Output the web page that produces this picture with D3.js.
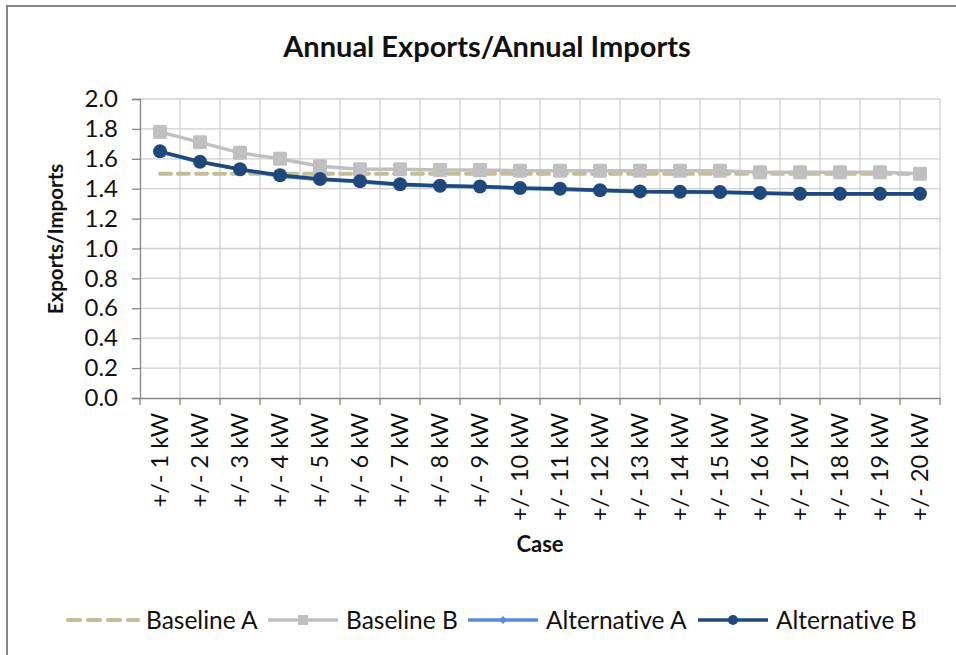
<!DOCTYPE html>
<html>
<head>
<meta charset="utf-8">
<script src="https://cdn.jsdelivr.net/npm/d3@7/dist/d3.min.js"></script>
<style>
  html, body { margin: 0; padding: 0; background: #fff; }
  svg { display: block; font-family: Lato, "Open Sans", sans-serif; font-variant-ligatures: none; font-feature-settings: "liga" 0; }
</style>
</head>
<body>
<svg id="chart" width="956" height="655"></svg>
<script>
// Cases and export/import ratios
const categories = ["+/- 1 kW","+/- 2 kW","+/- 3 kW","+/- 4 kW","+/- 5 kW","+/- 6 kW","+/- 7 kW","+/- 8 kW","+/- 9 kW","+/- 10 kW",
  "+/- 11 kW","+/- 12 kW","+/- 13 kW","+/- 14 kW","+/- 15 kW","+/- 16 kW","+/- 17 kW","+/- 18 kW","+/- 19 kW","+/- 20 kW"];
const baselineA = [1.50,1.50,1.50,1.50,1.50,1.50,1.50,1.50,1.50,1.50,1.50,1.50,1.50,1.50,1.50,1.50,1.50,1.50,1.50,1.50];
const baselineB = [1.78,1.71,1.64,1.60,1.55,1.53,1.53,1.525,1.525,1.52,1.52,1.52,1.52,1.52,1.52,1.51,1.51,1.51,1.51,1.50];
const alternativeA = [1.645,1.578,1.528,1.484,1.462,1.446,1.425,1.418,1.412,1.402,1.395,1.388,1.379,1.377,1.375,1.368,1.363,1.363,1.363,1.363];
const alternativeB = [1.65,1.58,1.53,1.49,1.465,1.45,1.43,1.42,1.415,1.405,1.40,1.39,1.382,1.38,1.378,1.372,1.366,1.366,1.366,1.366];
const yTicks = [0,0.2,0.4,0.6,0.8,1.0,1.2,1.4,1.6,1.8,2.0];

const series = [
  { name: "Baseline A", values: baselineA, color: "#C4BD97", dash: "11,7", width: 4, marker: null },
  { name: "Baseline B", values: baselineB, color: "#C0C0C0", dash: null, width: 3.5, marker: "square" },
  { name: "Alternative A", values: alternativeA, color: "#558ED5", dash: null, width: 3.5, marker: "diamond" },
  { name: "Alternative B", values: alternativeB, color: "#1F497D", dash: null, width: 3.5, marker: "circle" }
];

const svg = d3.select("#chart");
const plot = { left: 140, right: 940, top: 99, bottom: 398 };
const textColor = "#111";

// outer chart frame
svg.append("rect").attr("x", 7).attr("y", 6).attr("width", 1000).attr("height", 700)
  .attr("fill", "#fff").attr("stroke", "#868686").attr("stroke-width", 2);

const x = d3.scaleBand().domain(categories).range([plot.left, plot.right]).padding(0);
const y = d3.scaleLinear().domain([0, 2]).range([plot.bottom, plot.top]);
const cx = c => x(c) + x.bandwidth() / 2;

// horizontal grid
svg.append("g").selectAll("line").data(yTicks.slice(1)).join("line")
  .attr("x1", plot.left).attr("x2", plot.right)
  .attr("y1", d => y(d)).attr("y2", d => y(d))
  .attr("stroke", "#D0D0D0").attr("stroke-width", 1.3);
// vertical grid at category boundaries
const bounds = categories.map(c => x(c)).slice(1).concat([plot.right]);
svg.append("g").selectAll("line").data(bounds).join("line")
  .attr("x1", d => d).attr("x2", d => d)
  .attr("y1", plot.top).attr("y2", plot.bottom)
  .attr("stroke", "#D0D0D0").attr("stroke-width", 1.3);

// y axis
const yAxis = svg.append("g").attr("transform", `translate(${plot.left},0)`)
  .call(d3.axisLeft(y).tickValues(yTicks).tickFormat(d3.format(".1f")).tickSize(8).tickPadding(14));
yAxis.select(".domain").attr("stroke", "#868686").attr("stroke-width", 1.3);
yAxis.selectAll(".tick line").attr("stroke", "#868686").attr("stroke-width", 1.3);
yAxis.selectAll(".tick text").attr("font-size", 24).attr("fill", textColor).attr("font-family", "Lato, sans-serif");

// x axis with ticks on band edges
const xAxis = svg.append("g").attr("transform", `translate(0,${plot.bottom})`)
  .call(d3.axisBottom(x).tickSize(0).tickPadding(0));
xAxis.select(".domain").attr("stroke", "#868686").attr("stroke-width", 1.3);
xAxis.selectAll(".tick text")
  .attr("font-size", 23.5).attr("fill", textColor).attr("font-family", "Lato, sans-serif")
  .attr("text-anchor", "end")
  .attr("transform", "translate(0,15) rotate(-90)")
  .attr("dx", 0).attr("dy", "0.35em").attr("x", 0).attr("y", 0);
svg.append("g").selectAll("line").data([plot.left].concat(bounds)).join("line")
  .attr("x1", d => d).attr("x2", d => d)
  .attr("y1", plot.bottom).attr("y2", plot.bottom + 7)
  .attr("stroke", "#868686").attr("stroke-width", 1.3);

// series lines
const line = d3.line().x((d, i) => cx(categories[i])).y(d => y(d));
series.forEach(s => {
  svg.append("path").datum(s.values)
    .attr("d", line).attr("fill", "none")
    .attr("stroke", s.color).attr("stroke-width", s.width)
    .attr("stroke-dasharray", s.dash)
    .attr("stroke-linecap", s.dash ? "round" : "butt")
    .attr("stroke-linejoin", "round");
  const g = svg.append("g");
  const pts = s.values.map((v, i) => [cx(categories[i]), y(v)]);
  if (s.marker === "square") {
    g.selectAll("rect").data(pts).join("rect")
      .attr("x", d => d[0] - 7).attr("y", d => d[1] - 7)
      .attr("width", 14).attr("height", 14).attr("rx", 1.5).attr("fill", s.color);
  } else if (s.marker === "circle") {
    g.selectAll("circle").data(pts).join("circle")
      .attr("cx", d => d[0]).attr("cy", d => d[1]).attr("r", 7).attr("fill", s.color);
  } else if (s.marker === "diamond") {
    g.selectAll("path").data(pts).join("path")
      .attr("d", d => `M${d[0]},${d[1]-4}L${d[0]+4},${d[1]}L${d[0]},${d[1]+4}L${d[0]-4},${d[1]}Z`)
      .attr("fill", s.color);
  }
});

// titles
svg.append("text").attr("x", 487).attr("y", 57).attr("text-anchor", "middle")
  .attr("font-size", 29).attr("font-weight", "bold").attr("fill", textColor).text("Annual Exports/Annual Imports");
svg.append("text").attr("transform", "translate(63,239) rotate(-90)").attr("text-anchor", "middle")
  .attr("font-size", 20.5).attr("font-weight", "bold").attr("fill", textColor).text("Exports/Imports");
svg.append("text").attr("x", 540).attr("y", 552).attr("text-anchor", "middle")
  .attr("font-size", 22).attr("font-weight", "bold").attr("fill", textColor).text("Case");

// legend
const legendX = [68, 268, 468, 698];
const ly = 620;
series.forEach((s, i) => {
  const g = svg.append("g").attr("transform", `translate(${legendX[i]},${ly})`);
  g.append("line").attr("x1", 0).attr("x2", 70).attr("y1", 0).attr("y2", 0)
    .attr("stroke", s.color).attr("stroke-width", s.width)
    .attr("stroke-dasharray", s.dash ? "12,8" : null)
    .attr("stroke-linecap", s.dash ? "round" : "butt");
  if (s.marker === "square") g.append("rect").attr("x", 30).attr("y", -5).attr("width", 10).attr("height", 10).attr("fill", s.color);
  if (s.marker === "circle") g.append("circle").attr("cx", 35).attr("cy", 0).attr("r", 5).attr("fill", s.color);
  if (s.marker === "diamond") g.append("path").attr("d", "M35,-4L39,0L35,4L31,0Z").attr("fill", s.color);
  g.append("text").attr("x", 78).attr("y", 0).attr("dy", "0.35em")
    .attr("font-size", 24.5).attr("fill", textColor).text(s.name);
});
</script>
</body>
</html>
